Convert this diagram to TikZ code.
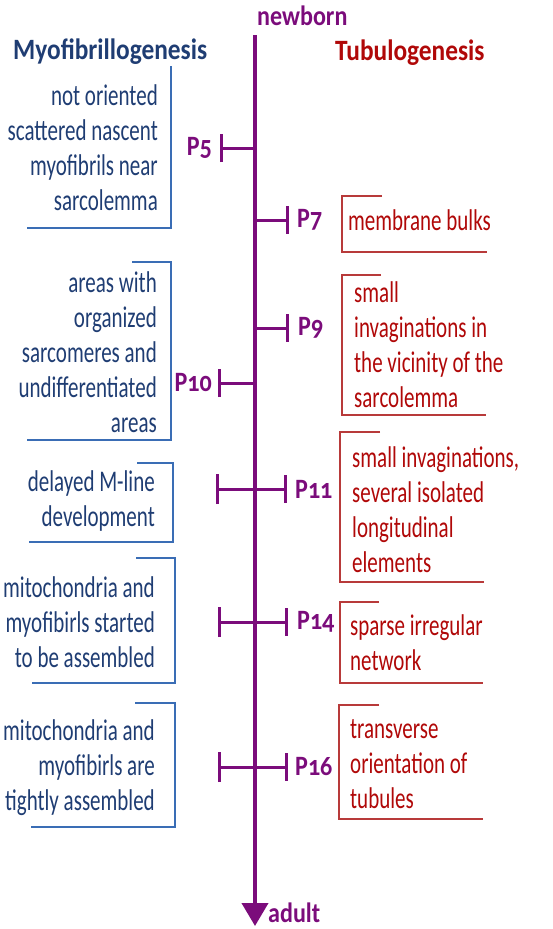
\documentclass[tikz,border=0pt]{standalone}
\usepackage{fontspec}
\setmainfont{Carlito}[FakeStretch=0.86, Numbers=OldStyle]
\newfontfamily\notefont{Carlito}[FakeStretch=0.70]
\usetikzlibrary{arrows.meta,positioning}
\definecolor{axiscol}{HTML}{7B0C7B}
\definecolor{myoblue}{HTML}{1F3D73}
\definecolor{myoline}{HTML}{3A6DB5}
\definecolor{tubred}{HTML}{B00808}
\definecolor{tubline}{HTML}{B83A3A}
\begin{document}
\begin{tikzpicture}[x=1pt, y=-1pt,
    myotext/.style={anchor=east, align=right, text=myoblue, inner sep=0pt,
        font=\notefont\fontsize{30}{35}\selectfont},
    tubtext/.style={anchor=west, align=left, text=tubred, inner sep=0pt,
        font=\notefont\fontsize{30}{35}\selectfont},
    myobox/.style={myoline, line width=1.3pt},
    tubbox/.style={tubline, line width=1.3pt},
    daylabel/.style={text=axiscol, inner sep=0pt, font=\bfseries\fontsize{28}{30}\selectfont},
    daybar/.style={axiscol, line width=3pt},
    axisline/.style={axiscol, line width=4pt}]
    % 画布大小
    \useasboundingbox (0,0) rectangle (553,929);

    % 时间轴
    \coordinate (top) at (255,35);
    \coordinate (bot) at (255,926);
    \draw[axisline, -{Triangle[width=26pt,length=23pt]}] (top) -- (bot);
    \node[daylabel, anchor=west] (newborn) at (257,16) {newborn};
    \node[daylabel, anchor=west] (adult) at (268,913) {adult};

    % 两侧标题
    \node[anchor=west, inner sep=0pt, text=myoblue, font=\bfseries\fontsize{29.5}{30}\selectfont]
        (myo) at (13,52) {Myofibrillogenesis};
    \node[anchor=west, inner sep=0pt, text=tubred, font=\bfseries\fontsize{29.5}{30}\selectfont]
        (tub) at (335,53) {Tubulogenesis};

    % 时间点：轴上的位置和刻度端点
    \coordinate (a5) at (255,148);   \coordinate (t5) at (220,148);
    \coordinate (a7) at (255,220);   \coordinate (t7) at (289,220);
    \coordinate (a9) at (255,328);   \coordinate (t9) at (289,328);
    \coordinate (a10) at (255,383);  \coordinate (t10) at (218,383);
    \coordinate (l11) at (216,489);  \coordinate (t11) at (287,489);
    \coordinate (l14) at (218,622);  \coordinate (t14) at (288,622);
    \coordinate (l16) at (218,767);  \coordinate (t16) at (288,767);

    % 刻度
    \draw[daybar, -{Bar[width=28pt]}] (a5) -- (t5);
    \draw[daybar, -{Bar[width=28pt]}] (a7) -- (t7);
    \draw[daybar, -{Bar[width=28pt]}] (a9) -- (t9);
    \draw[daybar, -{Bar[width=28pt]}] (a10) -- (t10);
    \draw[daybar, {Bar[width=30pt]}-{Bar[width=28pt]}] (l11) -- (t11);
    \draw[daybar, {Bar[width=30pt]}-{Bar[width=28pt]}] (l14) -- (t14);
    \draw[daybar, {Bar[width=30pt]}-{Bar[width=28pt]}] (l16) -- (t16);

    % 刻度标签
    \node[daylabel, left=8pt of t5] (p5) {P5};
    \node[daylabel, right=8pt of t7] (p7) {P7};
    \node[daylabel, right=9pt of t9] (p9) {P9};
    \node[daylabel, left=6pt of t10] (p10) {P10};
    \node[daylabel, right=8pt of t11] (p11) {P11};
    \node[daylabel, right=9pt of t14] (p14) {P14};
    \node[daylabel, right=7pt of t16] (p16) {P16};

    % 左侧：肌原纤维发生
    \node[myotext] (m5) at (158,147.5) {not oriented\\scattered nascent\\myofibrils near\\sarcolemma};
    \draw[myobox] (171,66) -- (171,228) -- (27,228);
    \node[myotext] (m10) at (157,352.5) {areas with\\organized\\sarcomeres and\\undifferentiated\\areas};
    \draw[myobox] (132,262) -- (171,262) -- (171,440) -- (27,440);
    \node[myotext] (m11) at (155,500.5) {delayed M-line\\development};
    \draw[myobox] (137,463) -- (173,463) -- (173,542) -- (29,542);
    \node[myotext] (m14) at (155,622.5) {mitochondria and\\myofibirls started\\to be assembled};
    \draw[myobox] (136,558) -- (175,558) -- (175,683) -- (32,683);
    \node[myotext] (m16) at (155,767.5) {mitochondria and\\myofibirls are\\tightly assembled};
    \draw[myobox] (135,703) -- (175,703) -- (175,827) -- (31,827);

    % 右侧：小管发生
    \node[tubtext] (r7) at (348,220) {membrane bulks};
    \draw[tubbox] (382,196) -- (342,196) -- (342,252) -- (487,252);
    \node[tubtext] (r9) at (354,345) {small\\invaginations in\\the vicinity of the\\sarcolemma};
    \draw[tubbox] (381,275) -- (342,275) -- (342,415) -- (486,415);
    \node[tubtext] (r11) at (352,509.5) {small invaginations,\\several isolated\\longitudinal\\elements};
    \draw[tubbox] (380,432) -- (340,432) -- (340,582) -- (484,582);
    \node[tubtext] (r14) at (350,642.5) {sparse irregular\\network};
    \draw[tubbox] (379,602) -- (340,602) -- (340,683) -- (483,683);
    \node[tubtext] (r16) at (350,764.5) {transverse\\orientation of\\tubules};
    \draw[tubbox] (379,705) -- (339,705) -- (339,819) -- (483,819);
\end{tikzpicture}
\end{document}
